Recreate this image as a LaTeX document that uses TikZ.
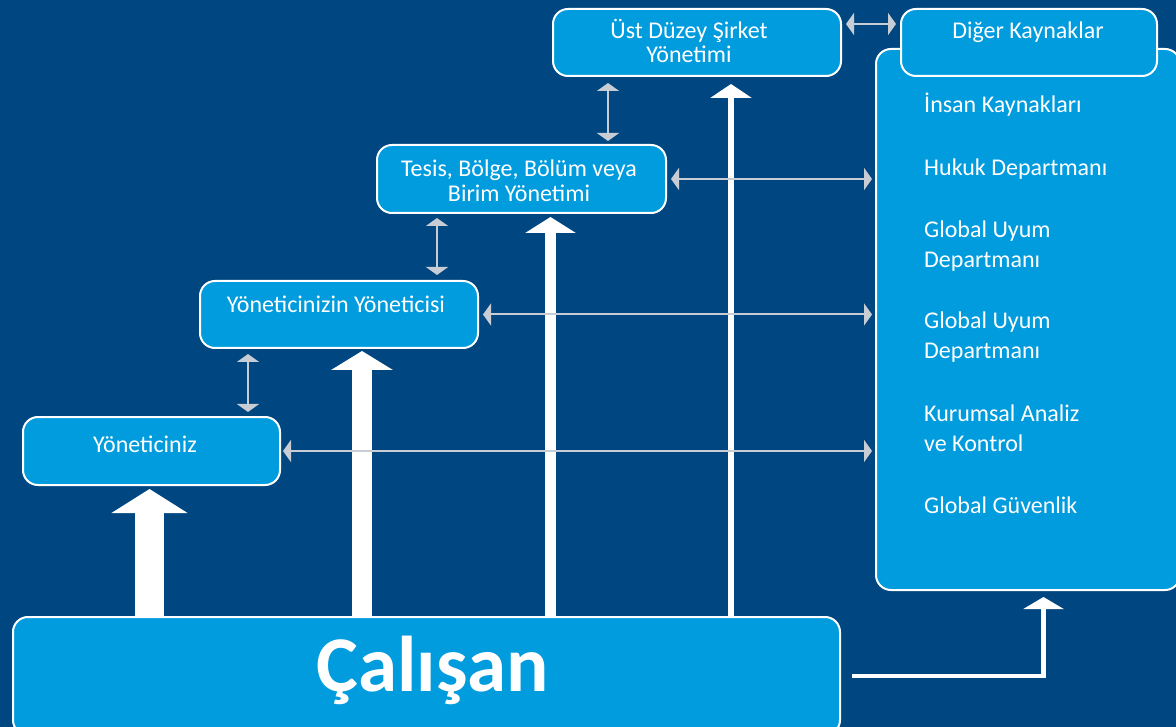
\documentclass[tikz,border=0pt]{standalone}
\usepackage{fontspec}
\setmainfont{Carlito}
\usetikzlibrary{arrows.meta}
\definecolor{bgblue}{HTML}{004680}
\definecolor{boxblue}{HTML}{009CDE}
\definecolor{arrgray}{HTML}{C8CCD4}
\begin{document}
\begin{tikzpicture}[x=1pt,y=-1pt,
  box/.style={draw=white, line width=2pt, fill=boxblue, rounded corners=15pt, inner sep=0pt, rectangle},
  lbl/.style={text=white, font=\fontsize{24}{24}\selectfont, inner sep=0pt, anchor=base},
  lblw/.style={lbl, anchor=base west},
  garrow/.style={draw=arrgray, line width=2pt, {Triangle[length=8pt,width=22pt]}-{Triangle[length=8pt,width=22pt]}},
  warrow/.style={draw=white}
]
% background / bounding box
\path[fill=bgblue, use as bounding box] (0,0) rectangle (1176,727);

% boxes
\node[box, minimum width=304pt, minimum height=541pt] (big) at (1028,319.5) {};
\node[box, minimum width=256pt, minimum height=67pt] (diger) at (1029,42.5) {};
\node[box, minimum width=288pt, minimum height=67pt] (ust) at (697,42.5) {};
\node[box, minimum width=289pt, minimum height=68pt] (tesis) at (521.5,179) {};
\node[box, minimum width=278pt, minimum height=67pt] (yy) at (339,314.5) {};
\node[box, minimum width=257pt, minimum height=68pt] (yon) at (151.5,451) {};
\node[box, minimum width=827pt, minimum height=118pt] (cal) at (426.5,676) {};

% texts
\node[lbl] (tust1) at (689,39) {Üst Düzey Şirket};
\node[lbl] (tust2) at (689,63) {Yönetimi};
\node[lbl] (tdiger) at (1028,39) {Diğer Kaynaklar};
\node[lbl] (ttes1) at (519,177) {Tesis, Bölge, Bölüm veya};
\node[lbl] (ttes2) at (519,202) {Birim Yönetimi};
\node[lbl] (tyy) at (336,313) {Yöneticinizin Yöneticisi};
\node[lbl] (tyon) at (145,452) {Yöneticiniz};
\node[lblw] (r1) at (924,113) {İnsan Kaynakları};
\node[lblw] (r2) at (924,176) {Hukuk Departmanı};
\node[lblw] (r3) at (924,238) {Global Uyum};
\node[lblw] (r4) at (924,268) {Departmanı};
\node[lblw] (r5) at (924,329) {Global Uyum};
\node[lblw] (r6) at (924,359) {Departmanı};
\node[lblw] (r7) at (924,421) {Kurumsal Analiz};
\node[lblw] (r8) at (924,451) {ve Kontrol};
\node[lblw] (r9) at (924,513) {Global Güvenlik};
\node[text=white, inner sep=0pt, anchor=base, font=\fontsize{79}{80}\selectfont\bfseries] (tcal) at (433,691) {Çalışan};

% helper coordinates
\coordinate (a1) at (149.5,0);
\coordinate (a2) at (362,0);
\coordinate (a3) at (550.5,0);
\coordinate (a4) at (731,0);
\coordinate (g0) at (0,24);
\coordinate (v1) at (608,0);
\coordinate (v2) at (437,0);
\coordinate (v3) at (248,0);
\coordinate (e1) at (1043.5,0);

% white upward arrows
\draw[warrow, line width=29pt, -{Triangle[length=24pt,width=75pt]}, shorten >=3pt] (a1 |- cal.north) -- (a1 |- yon.south);
\draw[warrow, line width=20pt, -{Triangle[length=19pt,width=61pt]}, shorten >=2pt] (a2 |- cal.north) -- (a2 |- yy.south);
\draw[warrow, line width=11pt, -{Triangle[length=16pt,width=50pt]}, shorten >=3pt] (a3 |- cal.north) -- (a3 |- tesis.south);
\draw[warrow, line width=5.5pt, -{Triangle[length=14pt,width=41pt]}, shorten >=7pt] (a4 |- cal.north) -- (a4 |- ust.south);

% elbow arrow to other resources
\draw[warrow, line width=4.5pt, -{Triangle[length=12pt,width=40pt]}, shorten <=11pt, shorten >=6pt] (cal.east) -| (e1 |- big.south);

% gray double arrows
\draw[garrow, shorten <=4pt, shorten >=4pt] (ust.east |- g0) -- (diger.west |- g0);
\draw[garrow, shorten <=4pt, shorten >=3pt] (tesis.east) -- (tesis.east -| big.west);
\draw[garrow, shorten <=4pt, shorten >=3pt] (yy.east) -- (yy.east -| big.west);
\draw[garrow, shorten <=2pt, shorten >=3pt] (yon.east) -- (yon.east -| big.west);
\draw[garrow, shorten <=6pt, shorten >=3pt] (v1 |- ust.south) -- (v1 |- tesis.north);
\draw[garrow, shorten <=4pt, shorten >=5pt] (v2 |- tesis.south) -- (v2 |- yy.north);
\draw[garrow, shorten <=5pt, shorten >=4pt] (v3 |- yy.south) -- (v3 |- yon.north);
\end{tikzpicture}
\end{document}
